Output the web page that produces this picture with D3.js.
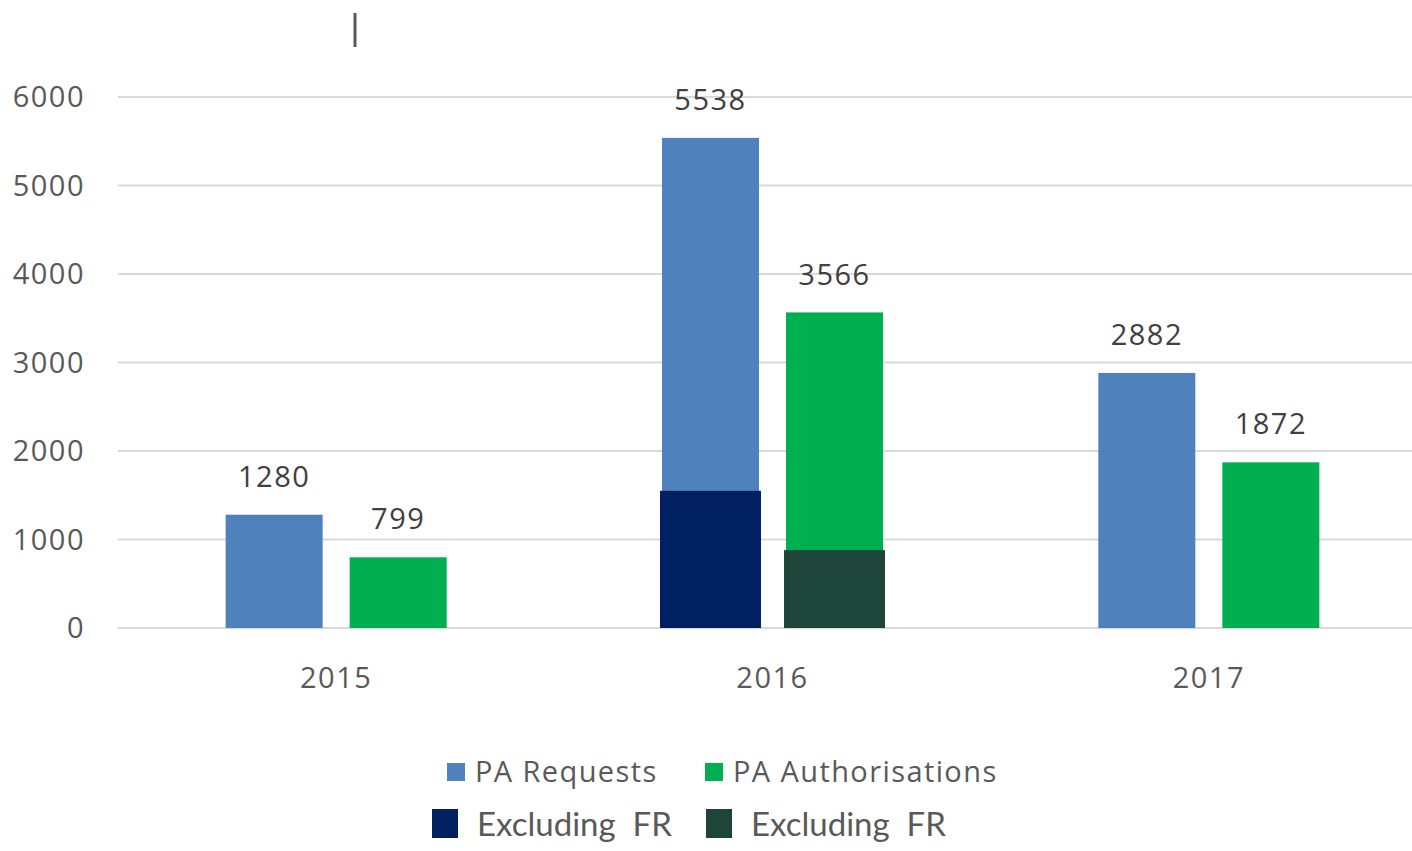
<!DOCTYPE html>
<html lang="en">
<head>
<meta charset="utf-8">
<script src="https://cdn.jsdelivr.net/npm/d3@7"></script>
<title>PA Requests and Authorisations</title>
<style>
  body { margin: 0; background: #fff; }
  svg { display: block; }
  text { font-family: "Open Sans", sans-serif; }
</style>
</head>
<body>
<div id="chart"></div>
<script>
// data
const years = ["2015", "2016", "2017"];
const series = ["PA Requests", "PA Authorisations"];
const requests = [1280, 5538, 2882];
const authorisations = [799, 3566, 1872];
// 2016 only: values excluding FR
const exclYear = "2016";
const exclRequests = 1550;
const exclAuthorisations = 880;
const yTicks = [0, 1000, 2000, 3000, 4000, 5000, 6000];

const W = 1412, H = 851;
const colors = { req: "#4F81BD", auth: "#00B050", exReq: "#002060", exAuth: "#1D4539" };

const svg = d3.select("#chart").append("svg").attr("width", W).attr("height", H);

const x = d3.scaleBand().domain(years).range([118, 1427]);
const inner = d3.scaleBand().domain(series).range([0, x.bandwidth()]).paddingInner(0.218).paddingOuter(0.868);
const y = d3.scaleLinear().domain([0, 6000]).range([628, 97]);

// gridlines
svg.append("g").selectAll("line").data(yTicks).join("line")
  .attr("x1", 118).attr("x2", 1427)
  .attr("y1", d => y(d)).attr("y2", d => y(d))
  .attr("stroke", "#d9d9d9").attr("stroke-width", 2);

// y labels
svg.append("g").selectAll("text").data(yTicks).join("text")
  .attr("x", 85).attr("y", d => y(d)).attr("dy", "0.35em")
  .attr("text-anchor", "end").attr("font-size", 29).attr("letter-spacing", 1.5)
  .attr("fill", "#595959").text(d => d);

// x labels
svg.append("g").selectAll("text").data(years).join("text")
  .attr("x", d => x(d) + x.bandwidth() / 2).attr("y", 688)
  .attr("text-anchor", "middle").attr("font-size", 29).attr("letter-spacing", 1.5)
  .attr("fill", "#595959").text(d => d);

const rows = years.map((yr, i) => [
  { year: yr, s: series[0], v: requests[i], c: colors.req },
  { year: yr, s: series[1], v: authorisations[i], c: colors.auth }
]).flat();

svg.append("g").selectAll("rect").data(rows).join("rect")
  .attr("x", d => x(d.year) + inner(d.s))
  .attr("width", inner.bandwidth())
  .attr("y", d => y(d.v))
  .attr("height", d => y(0) - y(d.v))
  .attr("fill", d => d.c);

// overlay bars, drawn a little wider than the columns
const excl = [
  { s: series[0], v: exclRequests, c: colors.exReq },
  { s: series[1], v: exclAuthorisations, c: colors.exAuth }
];
svg.append("g").selectAll("rect").data(excl).join("rect")
  .attr("x", d => x(exclYear) + inner(d.s) - 2)
  .attr("width", inner.bandwidth() + 4)
  .attr("y", d => y(d.v))
  .attr("height", d => y(0) - y(d.v))
  .attr("fill", d => d.c);

// data labels
svg.append("g").selectAll("text").data(rows).join("text")
  .attr("x", d => x(d.year) + inner(d.s) + inner.bandwidth() / 2)
  .attr("y", d => y(d.v) - 38).attr("dy", "0.35em")
  .attr("text-anchor", "middle").attr("font-size", 29).attr("letter-spacing", 1.5)
  .attr("fill", "#404040").text(d => d.v);

// stray cursor mark at the top
svg.append("line").attr("x1", 355).attr("x2", 355).attr("y1", 13).attr("y2", 47)
  .attr("stroke", "#595959").attr("stroke-width", 3);

// legend
const leg1 = [
  { label: "PA Requests", c: colors.req, x: 447 },
  { label: "PA Authorisations", c: colors.auth, x: 705 }
];
const g1 = svg.append("g").selectAll("g").data(leg1).join("g");
g1.append("rect").attr("x", d => d.x).attr("y", 763).attr("width", 18).attr("height", 18).attr("fill", d => d.c);
g1.append("text").attr("x", d => d.x + 28).attr("y", 772).attr("dy", "0.35em")
  .attr("font-size", 29).attr("letter-spacing", 1.4).attr("fill", "#595959").text(d => d.label);

const leg2 = [
  { label: "Excluding\u00a0 FR", c: colors.exReq, x: 432 },
  { label: "Excluding\u00a0 FR", c: colors.exAuth, x: 706 }
];
const g2 = svg.append("g").selectAll("g").data(leg2).join("g");
g2.append("rect").attr("x", d => d.x).attr("y", 809).attr("width", 26).attr("height", 29).attr("fill", d => d.c);
g2.append("text").attr("x", d => d.x + 45).attr("y", 824).attr("dy", "0.35em")
  .style("font-family", "Lato, sans-serif").attr("font-size", 33).attr("fill", "#595959").text(d => d.label);
</script>
</body>
</html>
